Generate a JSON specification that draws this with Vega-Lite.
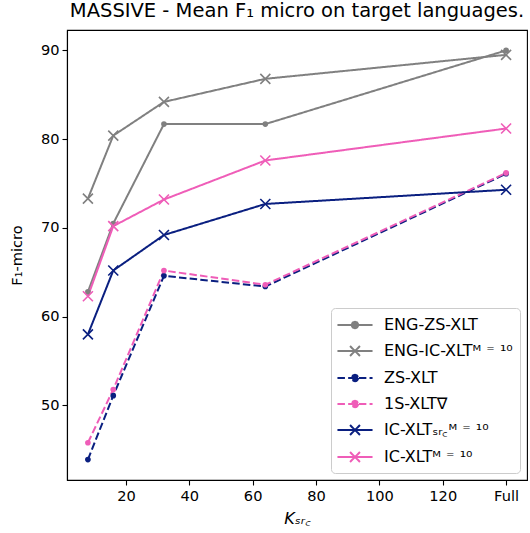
{
  "$schema": "https://vega.github.io/schema/vega-lite/v6.json",
  "autosize": "none",
  "width": 460,
  "height": 450,
  "padding": {"left": 67, "top": 30, "right": 3, "bottom": 53},
  "title": {"text": "MASSIVE - Mean F₁ micro on target languages.", "fontSize": 19.5, "fontWeight": "normal", "font": "DejaVu Sans", "color": "black", "offset": 9, "anchor": "middle"},
  "config": {
    "font": "DejaVu Sans",
    "view": {"stroke": "black", "strokeWidth": 1.1},
    "axis": {"domainColor": "black", "tickColor": "black", "labelColor": "black", "titleColor": "black", "labelFontSize": 14.6, "titleFontSize": 14.6, "titleFontWeight": "normal", "tickSize": 5, "grid": false, "labelPadding": 3, "domainWidth": 1.1, "tickWidth": 1.1}
  },
  "data": {"values": [
    {"series": "ENG-ZS-XLT", "k": 8, "f1": 62.8},
    {"series": "ENG-ZS-XLT", "k": 16, "f1": 70.5},
    {"series": "ENG-ZS-XLT", "k": 32, "f1": 81.7},
    {"series": "ENG-ZS-XLT", "k": 64, "f1": 81.7},
    {"series": "ENG-ZS-XLT", "k": 140, "f1": 90.0},
    {"series": "ENG-IC-XLTᴹ ⁼ ¹⁰", "k": 8, "f1": 73.3},
    {"series": "ENG-IC-XLTᴹ ⁼ ¹⁰", "k": 16, "f1": 80.4},
    {"series": "ENG-IC-XLTᴹ ⁼ ¹⁰", "k": 32, "f1": 84.2},
    {"series": "ENG-IC-XLTᴹ ⁼ ¹⁰", "k": 64, "f1": 86.8},
    {"series": "ENG-IC-XLTᴹ ⁼ ¹⁰", "k": 140, "f1": 89.5},
    {"series": "ZS-XLT", "k": 8, "f1": 43.9},
    {"series": "ZS-XLT", "k": 16, "f1": 51.1},
    {"series": "ZS-XLT", "k": 32, "f1": 64.6},
    {"series": "ZS-XLT", "k": 64, "f1": 63.4},
    {"series": "ZS-XLT", "k": 140, "f1": 76.1},
    {"series": "1S-XLT∇", "k": 8, "f1": 45.8},
    {"series": "1S-XLT∇", "k": 16, "f1": 51.8},
    {"series": "1S-XLT∇", "k": 32, "f1": 65.2},
    {"series": "1S-XLT∇", "k": 64, "f1": 63.6},
    {"series": "1S-XLT∇", "k": 140, "f1": 76.2},
    {"series": "IC-XLTₛᵣ꜀ᴹ ⁼ ¹⁰", "k": 8, "f1": 58.0},
    {"series": "IC-XLTₛᵣ꜀ᴹ ⁼ ¹⁰", "k": 16, "f1": 65.2},
    {"series": "IC-XLTₛᵣ꜀ᴹ ⁼ ¹⁰", "k": 32, "f1": 69.2},
    {"series": "IC-XLTₛᵣ꜀ᴹ ⁼ ¹⁰", "k": 64, "f1": 72.7},
    {"series": "IC-XLTₛᵣ꜀ᴹ ⁼ ¹⁰", "k": 140, "f1": 74.3},
    {"series": "IC-XLTᴹ ⁼ ¹⁰", "k": 8, "f1": 62.3},
    {"series": "IC-XLTᴹ ⁼ ¹⁰", "k": 16, "f1": 70.2},
    {"series": "IC-XLTᴹ ⁼ ¹⁰", "k": 32, "f1": 73.2},
    {"series": "IC-XLTᴹ ⁼ ¹⁰", "k": 64, "f1": 77.6},
    {"series": "IC-XLTᴹ ⁼ ¹⁰", "k": 140, "f1": 81.2}
  ]},
  "encoding": {
    "x": {"field": "k", "type": "quantitative", "scale": {"domain": [1.4, 146.6], "nice": false, "zero": false},
      "axis": {"values": [20, 40, 60, 80, 100, 120, 140], "labelExpr": "datum.value == 140 ? 'Full' : datum.label", "title": "Kₛᵣ꜀", "titleFontStyle": "italic", "titleFontSize": 16, "titlePadding": 8}},
    "y": {"field": "f1", "type": "quantitative", "scale": {"domain": [41.6, 92.3], "nice": false, "zero": false},
      "axis": {"values": [50, 60, 70, 80, 90], "title": "F₁-micro", "titlePadding": 16}}
  },
  "layer": [
    {
      "mark": {"type": "line", "strokeWidth": 2},
      "encoding": {
        "color": {"field": "series", "type": "nominal",
          "scale": {"domain": ["ENG-ZS-XLT", "ENG-IC-XLTᴹ ⁼ ¹⁰", "ZS-XLT", "1S-XLT∇", "IC-XLTₛᵣ꜀ᴹ ⁼ ¹⁰", "IC-XLTᴹ ⁼ ¹⁰"], "range": ["#808080", "#808080", "#0a1f80", "#ef5db8", "#0a1f80", "#ef5db8"]},
          "legend": {"title": null, "orient": "bottom-right", "offset": 7, "padding": 7, "strokeColor": "#cccccc", "fillColor": "rgba(255,255,255,0.8)", "cornerRadius": 4, "labelFontSize": 16, "labelColor": "black", "labelLimit": 300, "symbolSize": 324, "symbolStrokeWidth": 2, "labelOffset": 26, "rowPadding": 8,
            "encode": {"symbols": {"update": {
              "shape": {"signal": "indexof(['ENG-ZS-XLT','ZS-XLT','1S-XLT∇'], datum.value) >= 0 ? 'M-1.95,0L1.95,0M0.35,0A0.35,0.35 0 1,1 -0.35,0A0.35,0.35 0 1,1 0.35,0Z' : 'M-1.95,0L1.95,0M-0.55,-0.55L0.55,0.55M-0.55,0.55L0.55,-0.55'"},
              "strokeDash": {"signal": "indexof(['ZS-XLT','1S-XLT∇'], datum.value) >= 0 ? [7,3] : [1,0]"},
              "fill": {"scale": "color", "field": "value"},
              "xc": {"value": 17}
            }}}}},
        "strokeDash": {"field": "series", "type": "nominal", "legend": null,
          "scale": {"domain": ["ENG-ZS-XLT", "ENG-IC-XLTᴹ ⁼ ¹⁰", "ZS-XLT", "1S-XLT∇", "IC-XLTₛᵣ꜀ᴹ ⁼ ¹⁰", "IC-XLTᴹ ⁼ ¹⁰"], "range": [[1, 0], [1, 0], [7.5, 3.2], [7.5, 3.2], [1, 0], [1, 0]]}}
      }
    },
    {
      "transform": [{"filter": "indexof(['ENG-ZS-XLT','ZS-XLT','1S-XLT∇'], datum.series) >= 0"}],
      "mark": {"type": "point", "shape": "circle", "filled": true, "size": 32, "opacity": 1},
      "encoding": {"color": {"field": "series", "type": "nominal", "legend": null}}
    },
    {
      "transform": [{"filter": "indexof(['ENG-ZS-XLT','ZS-XLT','1S-XLT∇'], datum.series) < 0"}],
      "mark": {"type": "point", "shape": "M-1,-1L1,1M-1,1L1,-1", "filled": false, "size": 100, "strokeWidth": 1.6, "opacity": 1},
      "encoding": {"color": {"field": "series", "type": "nominal", "legend": null}}
    }
  ]
}
